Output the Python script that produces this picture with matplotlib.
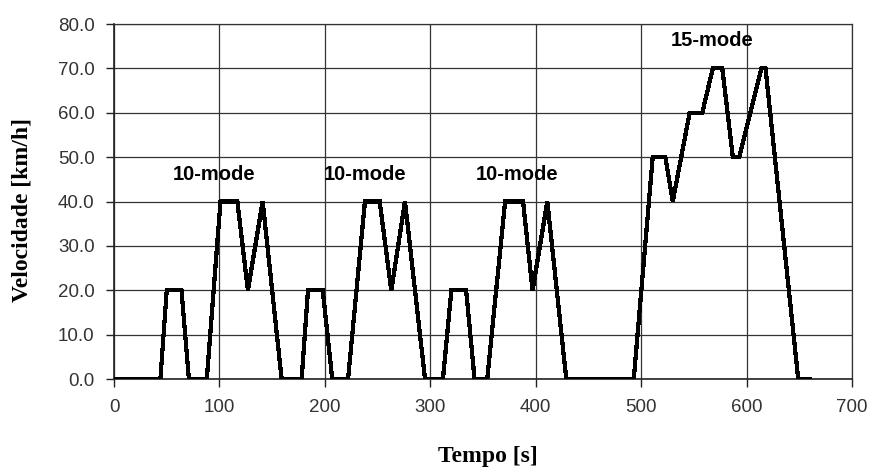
import matplotlib
matplotlib.use("Agg")
import matplotlib.pyplot as plt
from matplotlib.ticker import MultipleLocator, FormatStrFormatter

# 10-15 mode cycle: breakpoints of the speed trace (time in s, speed in km/h)
tempo = [0, 44, 50, 64, 71, 88, 101, 117, 127, 141, 159,
         178, 184, 198, 207, 222, 238, 252, 263, 276, 295,
         312, 320, 334, 342, 354, 371, 388, 397, 411, 429,
         493, 511, 523, 530, 546, 558, 568, 577, 587, 593, 614, 618, 649, 660]
velocidade = [0, 0, 20, 20, 0, 0, 40, 40, 20, 40, 0,
              0, 20, 20, 0, 0, 40, 40, 20, 40, 0,
              0, 20, 20, 0, 0, 40, 40, 20, 40, 0,
              0, 50, 50, 40, 60, 60, 70, 70, 50, 50, 70, 70, 0, 0]

# segment labels and where they sit
mode_labels = ["10-mode", "10-mode", "10-mode", "15-mode"]
mode_x = [95, 238, 382, 567]
mode_y = [46, 46, 46, 76.2]

fig = plt.figure(figsize=(8.69, 4.68), dpi=100)
ax = fig.add_axes([0.1312, 0.190, 0.8492, 0.7587])

ax.plot(tempo, velocidade, color="black", linewidth=2.3, antialiased=False,
        solid_joinstyle="miter", zorder=3)

for label, x, y in zip(mode_labels, mode_x, mode_y):
    ax.text(x, y, label, ha="center", va="center", fontsize=14.5,
            fontweight="bold", family="Liberation Sans", zorder=4)

ax.set_xlim(0, 700)
ax.set_ylim(0, 80)
ax.xaxis.set_major_locator(MultipleLocator(100))
ax.yaxis.set_major_locator(MultipleLocator(10))
ax.yaxis.set_major_formatter(FormatStrFormatter("%.1f"))

ax.grid(True, color="#333333", linewidth=0.9)
ax.set_axisbelow(True)
for side in ["top", "right"]:
    ax.spines[side].set_color("#333333")
    ax.spines[side].set_linewidth(0.9)
for side in ["left", "bottom"]:
    ax.spines[side].set_color("#222222")
    ax.spines[side].set_linewidth(1.2)

ax.tick_params(direction="out", length=6, width=1, color="#222222",
               labelsize=13.5, labelcolor="#333333", pad=8)
for lbl in ax.get_xticklabels() + ax.get_yticklabels():
    lbl.set_family("Liberation Sans")

ax.set_xlabel("Tempo [s]", family="Liberation Serif", fontweight="bold",
              fontsize=17)
ax.set_ylabel("Velocidade [km/h]", family="Liberation Serif", fontweight="bold",
              fontsize=17)
ax.xaxis.set_label_coords(0.506, -0.189)
ax.yaxis.set_label_coords(-0.110, 0.476)

fig.savefig("out.png", dpi=100)
